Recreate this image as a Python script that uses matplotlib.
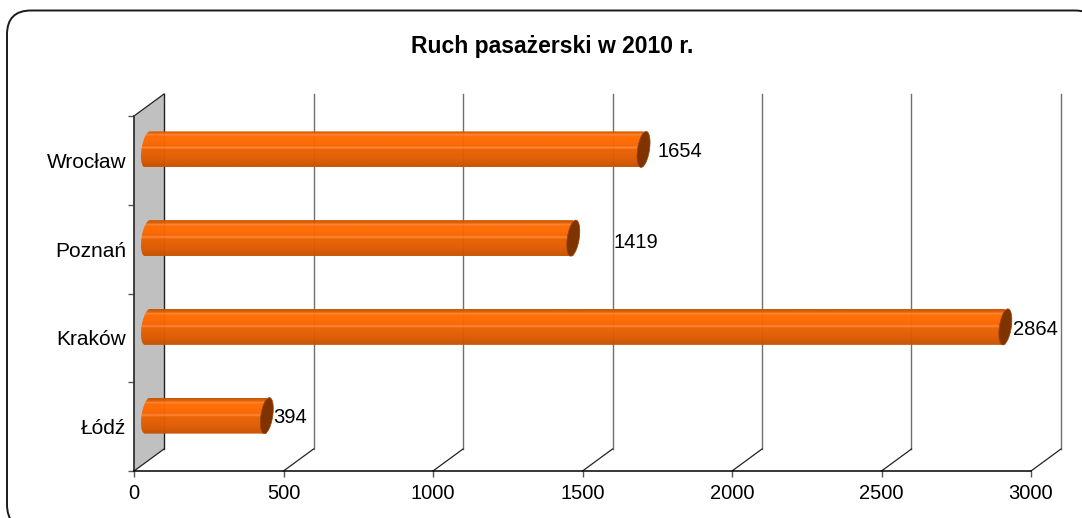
#! /usr/bin/env python3

import numpy as np
import matplotlib
matplotlib.use('Agg')
import matplotlib.pyplot as plt
from matplotlib.patches import FancyBboxPatch, Polygon
from matplotlib.colors import to_rgb

plt.rcParams['font.family'] = ['Liberation Sans', 'DejaVu Sans']

cities = ['Łódź', 'Kraków', 'Poznań', 'Wrocław']
passengers = [394, 2864, 1419, 1654]
x_ticks = [0, 500, 1000, 1500, 2000, 2500, 3000]

# pixel offset of each value label from the end of its bar
label_dx = [6, 8, 40, 14]
label_dy = [2, 3, 4, 2]

W, H = 1082, 518
X0, X1 = 134, 1031     # front plane
Y_TOP, Y_BOT = 116, 471
DEPTH_X, DEPTH_Y = 30, 22

fig = plt.figure(figsize=(W / 100, H / 100), dpi=100, facecolor='white')

# rounded frame, runs off the right and bottom edge of the picture
bg = fig.add_axes([0, 0, 1, 1], zorder=0)
bg.set_xlim(0, W)
bg.set_ylim(H, 0)
bg.axis('off')
bg.add_patch(FancyBboxPatch((27, 30.5), 1052, 478, boxstyle='round,pad=20,rounding_size=24',
                            fc='white', ec='#1a1a1a', lw=1.4, clip_on=False))

ax = fig.add_axes([X0 / W, 1 - Y_BOT / H, (X1 - X0) / W, (Y_BOT - Y_TOP) / H], zorder=1)
ax.patch.set_alpha(0)

# data units per pixel
ux = 3000 / (X1 - X0)
uy = 4 / (Y_BOT - Y_TOP)
dx = DEPTH_X * ux
dy = DEPTH_Y * uy

# side wall
ax.add_patch(Polygon([(0, 0), (dx, dy), (dx, 4 + dy), (0, 4)], fc='#c0c0c0', ec='none',
                     clip_on=False, zorder=1))
ax.plot([0, dx], [4, 4 + dy], color='#222222', lw=0.9, clip_on=False, zorder=2)
ax.plot([0, dx], [0, dy], color='#222222', lw=0.9, clip_on=False, zorder=2)
ax.plot([dx, dx], [dy, 4 + dy], color='#222222', lw=1.0, clip_on=False, zorder=2)

# back grid and floor lines
for tick in x_ticks[1:]:
    ax.plot([tick + dx, tick + dx], [dy, 4 + dy], color='#707070', lw=1.0, clip_on=False, zorder=2)
    ax.plot([tick, tick + dx], [0, dy], color='#222222', lw=0.9, clip_on=False, zorder=2)

# colours of the cylinder from top to bottom
stops = ['#c85500', '#e05e00', '#ff8028', '#ff6c05', '#ff6a00', '#ff6a00', '#fc6800', '#f86600',
         '#f66400', '#ff8434', '#ec6000', '#e85f00', '#e85f00', '#e45d00', '#e25c00', '#de5a00',
         '#da5800', '#d45600', '#cc5300', '#c85200']
grad = np.array([[to_rgb(c)] for c in stops])

half_h = 18
t = np.linspace(0, 2 * np.pi, 81)
left_side = (t >= np.pi / 2) & (t <= 3 * np.pi / 2)


def cap(cx, cy):
    # slanted ellipse at one end of a cylinder
    px = 6 * np.cos(t) + 2.5 * np.sin(t)
    py = half_h * np.sin(t)
    return cx + px * ux, cy + py * uy


for i, (city, val) in enumerate(zip(cities, passengers)):
    cy = i + 0.5 + dy / 2
    end = val + dx / 2
    start = dx / 2 - 1.5 * ux

    lx, ly = cap(start, cy)
    rx, ry = cap(end, cy)

    # body: left half of the first ellipse joined to the middle of the second one
    body = Polygon(np.concatenate([np.c_[lx[left_side], ly[left_side]],
                                   [[end, cy - half_h * uy], [end, cy + half_h * uy]]]),
                   closed=True, transform=ax.transData, fc='none', ec='none')
    ax.add_patch(body)
    im = ax.imshow(grad, extent=[start - 8 * ux, end + 8 * ux, cy - half_h * uy, cy + half_h * uy],
                   aspect='auto', interpolation='bilinear', zorder=3, alpha=0.97)
    im.set_clip_path(body)
    ax.add_patch(Polygon(np.c_[rx, ry], fc='#7f3400', ec='#a04400', lw=0.5, zorder=4))

    ax.annotate(str(val), xy=(end, cy), xytext=(label_dx[i] * 0.72, -label_dy[i] * 0.72),
                textcoords='offset points', ha='left', va='center', fontsize=14.5, color='black',
                zorder=5, annotation_clip=False)

ax.set_xlim(0, 3000)
ax.set_ylim(0, 4)

ax.set_xticks(x_ticks)
ax.set_yticks(range(5))
ax.set_yticklabels([])
ax.set_yticks(np.arange(4) + 0.5, labels=cities, minor=True)
ax.tick_params(axis='x', length=4, width=1, color='#555555', pad=5.5, labelsize=14.5)
ax.tick_params(axis='y', which='major', length=4, width=1, color='#555555')
ax.tick_params(axis='y', which='minor', length=0, pad=5.5, labelsize=15)

for s in ['top', 'right']:
    ax.spines[s].set_visible(False)
ax.spines['left'].set_color('#333333')
ax.spines['left'].set_linewidth(1.3)
ax.spines['bottom'].set_color('black')
ax.spines['bottom'].set_linewidth(1.1)

fig.text(552 / W, 1 - 47 / H, 'Ruch pasażerski w 2010 r.', ha='center', va='center',
         fontsize=16.5, fontweight='bold')

fig.savefig('out.png', dpi=100)
